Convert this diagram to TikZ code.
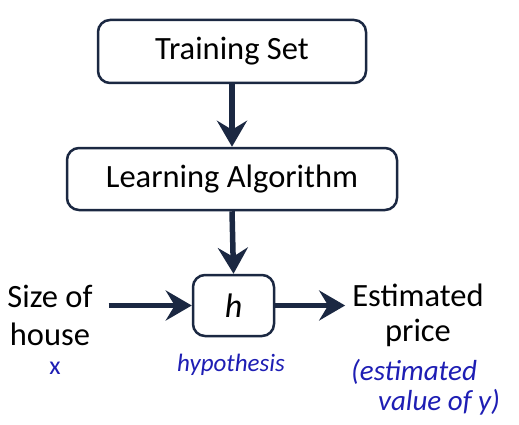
\documentclass[tikz,border=0pt]{standalone}
\usepackage{fontspec}
\setmainfont{Carlito}
\usetikzlibrary{arrows.meta}
\definecolor{navy}{HTML}{1B2842}
\definecolor{pen}{HTML}{1E1EB4}
\begin{document}
\begin{tikzpicture}[x=1pt,y=-1pt,
  box/.style={draw=navy, line width=2.5pt, rounded corners=12pt, fill=white, inner sep=0pt, font=\fontsize{32.5}{38}\selectfont},
  flow/.style={draw=navy, line width=5.5pt, -{Stealth[length=26pt,width=30pt,inset=9pt]}},
  lbl/.style={align=center, inner sep=0pt},
  hand/.style={text=pen, font=\fontsize{25}{30}\selectfont\itshape, inner sep=0pt}]
\useasboundingbox[fill=white] (0,0) rectangle (519,425);
\node[box, minimum width=268pt, minimum height=63pt] (ts) at (232,51.5) {Training Set};
\node[box, minimum width=330pt, minimum height=62pt] (la) at (232,179) {Learning Algorithm};
\node[box, minimum width=81pt, minimum height=61pt] (h) at (233.5,305.5) {\fontsize{34}{38}\selectfont\itshape h};
\node[lbl, font=\fontsize{32.5}{38}\selectfont] (sz) at (50,315) {Size of\\house};
\node[lbl, font=\fontsize{32.5}{35}\selectfont] (est) at (418,315) {Estimated\\price};
\draw[flow] (ts.south -| la.north) -- (la.north);
\draw[flow] (la.south) -- (h.north);
\draw[flow] (sz.east |- h.west) ++(16,0) -- (h.west);
\draw[flow] (h.east) -- ([xshift=-7pt]est.west |- h.east);
\node[hand, font=\fontsize{26}{30}\selectfont] (x) at (55,368) {x};
\node[hand] (hyp) at (231,365) {hypothesis};
\node[hand, font=\fontsize{29}{30}\selectfont\itshape] (e1) at (414,372) {(estimated};
\node[hand, font=\fontsize{29}{30}\selectfont\itshape] (e2) at (439,402) {value of y)};
\end{tikzpicture}
\end{document}
